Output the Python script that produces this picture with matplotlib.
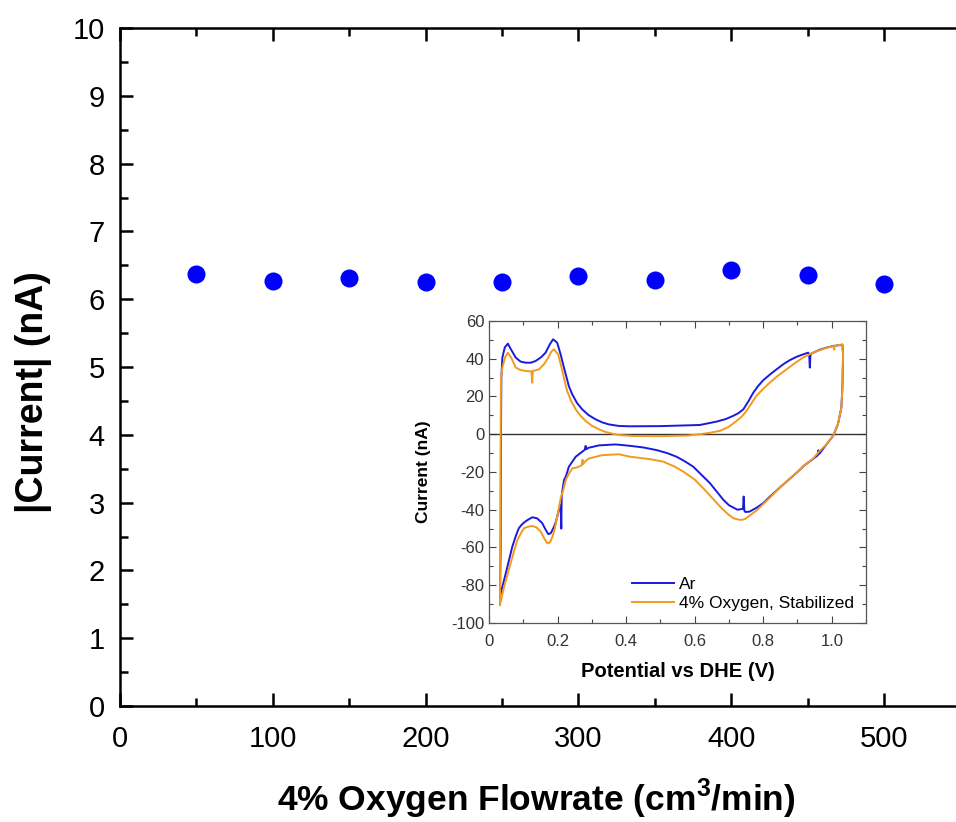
import matplotlib
matplotlib.use("Agg")
import matplotlib.pyplot as plt
from matplotlib.ticker import MultipleLocator

plt.rcParams['font.family'] = ['Liberation Sans', 'DejaVu Sans']
plt.rcParams['axes.unicode_minus'] = False

# Main data
flowrate = [50, 100, 150, 200, 250, 300, 350, 400, 450, 500]
current_abs = [6.37, 6.27, 6.31, 6.25, 6.25, 6.34, 6.28, 6.43, 6.36, 6.22]

# Inset CV: Ar (blue) -- potential (V)
ar_v = [0.032, 0.034, 0.035, 0.036, 0.039, 0.046, 0.055, 0.064, 0.078, 0.092, 0.107, 0.122,
        0.136, 0.152, 0.165, 0.177, 0.187, 0.199, 0.209, 0.217, 0.224, 0.233, 0.243, 0.257,
        0.272, 0.290, 0.311, 0.330, 0.350, 0.379, 0.410, 0.500, 0.600, 0.615, 0.664, 0.690,
        0.712, 0.728, 0.742, 0.757, 0.771, 0.785, 0.800, 0.820, 0.839, 0.858, 0.877, 0.897,
        0.916, 0.931, 0.934, 0.936, 0.938, 0.946, 0.965, 0.985, 1.005, 1.028, 1.031, 1.033,
        1.031, 1.028, 1.018, 1.004, 0.985, 0.963, 0.961, 0.959, 0.946, 0.920, 0.900, 0.875,
        0.850, 0.820, 0.800, 0.780, 0.760, 0.748, 0.745, 0.743, 0.741, 0.725, 0.700, 0.684,
        0.665, 0.645, 0.620, 0.596, 0.570, 0.547, 0.520, 0.489, 0.450, 0.410, 0.369, 0.321,
        0.290, 0.284, 0.282, 0.279, 0.265, 0.253, 0.243, 0.233, 0.225, 0.219, 0.214, 0.212,
        0.211, 0.209, 0.204, 0.195, 0.189, 0.180, 0.173, 0.165, 0.155, 0.140, 0.126, 0.112,
        0.102, 0.095, 0.087, 0.078, 0.068, 0.058, 0.049, 0.041, 0.034, 0.032]
# Ar current (nA)
ar_i = [-86.0, -60.0, 0.0, 30.0, 40.6, 46.0, 48.0, 45.0, 40.6, 38.5, 37.9, 37.9,
        38.8, 40.8, 43.2, 47.5, 50.3, 48.5, 42.3, 36.5, 31.7, 25.5, 21.1, 16.5,
        13.2, 10.2, 7.9, 6.3, 5.2, 4.4, 4.2, 4.3, 4.8, 4.9, 6.7, 8.0,
        9.7, 11.2, 13.2, 17.5, 22.0, 25.5, 28.6, 31.7, 34.4, 37.0, 39.2, 41.0,
        42.3, 43.2, 42.5, 35.3, 42.5, 43.2, 44.8, 45.9, 46.8, 47.3, 47.5, 42.3,
        24.7, 14.1, 5.3, -0.9, -5.3, -10.5, -8.5, -11.2, -13.0, -16.5, -20.0, -24.0,
        -28.0, -33.0, -36.5, -39.0, -41.0, -41.2, -40.5, -33.0, -39.5, -40.0, -37.6, -34.8,
        -30.5, -26.0, -21.5, -17.2, -14.2, -11.9, -10.0, -8.4, -7.0, -6.1, -5.4, -5.9,
        -7.2, -8.0, -6.2, -8.3, -10.2, -11.9, -14.5, -17.2, -22.0, -24.2, -30.0, -33.1,
        -50.0, -37.5, -40.1, -46.5, -49.3, -52.5, -52.9, -50.5, -47.0, -44.5, -44.0, -45.5,
        -46.8, -48.0, -49.8, -54.0, -59.6, -67.0, -73.7, -79.5, -84.3, -86.0]

# Inset CV: 4% Oxygen, Stabilized (orange) -- potential (V)
ox_v = [0.032, 0.033, 0.034, 0.035, 0.039, 0.047, 0.055, 0.065, 0.078, 0.092, 0.107, 0.124,
        0.126, 0.128, 0.146, 0.160, 0.170, 0.182, 0.189, 0.202, 0.214, 0.221, 0.228, 0.240,
        0.253, 0.267, 0.282, 0.300, 0.321, 0.340, 0.360, 0.379, 0.420, 0.500, 0.580, 0.615,
        0.645, 0.674, 0.700, 0.722, 0.737, 0.751, 0.765, 0.780, 0.800, 0.819, 0.843, 0.868,
        0.892, 0.916, 0.940, 0.964, 0.985, 1.005, 1.007, 1.009, 1.020, 1.031, 1.033, 1.031,
        1.028, 1.018, 1.004, 0.985, 0.964, 0.946, 0.920, 0.900, 0.875, 0.850, 0.820, 0.800,
        0.780, 0.761, 0.748, 0.737, 0.725, 0.713, 0.695, 0.674, 0.650, 0.625, 0.600, 0.567,
        0.540, 0.508, 0.470, 0.411, 0.379, 0.330, 0.291, 0.280, 0.275, 0.273, 0.270, 0.258,
        0.243, 0.233, 0.224, 0.216, 0.209, 0.204, 0.199, 0.192, 0.185, 0.178, 0.170, 0.162,
        0.151, 0.138, 0.126, 0.114, 0.102, 0.093, 0.083, 0.073, 0.063, 0.053, 0.044, 0.037,
        0.032]
# Oxygen current (nA)
ox_i = [-90.5, -60.0, 0.0, 30.0, 35.3, 40.8, 43.2, 40.5, 35.3, 34.0, 33.5, 33.3,
        27.3, 33.5, 34.4, 37.0, 39.7, 43.8, 45.0, 42.3, 33.5, 28.0, 22.9, 17.5,
        13.2, 9.8, 7.0, 4.5, 2.6, 1.2, 0.3, -0.4, -0.9, -1.0, -0.7, 0.0,
        0.8, 1.8, 4.0, 7.0, 9.3, 12.3, 16.2, 20.3, 24.0, 27.3, 31.0, 34.4,
        37.6, 40.6, 42.8, 44.5, 45.8, 46.7, 44.8, 46.8, 47.2, 47.6, 42.3, 24.7,
        14.1, 5.3, -0.9, -5.3, -9.0, -12.8, -16.5, -20.0, -24.0, -28.0, -33.5, -37.0,
        -40.5, -43.0, -44.8, -45.4, -45.1, -44.5, -42.0, -38.3, -33.5, -28.6, -24.0, -19.8,
        -17.0, -14.5, -13.2, -11.9, -10.6, -11.1, -12.9, -14.5, -15.8, -13.5, -16.5, -17.5,
        -18.1, -21.0, -24.2, -30.0, -33.9, -39.0, -43.7, -50.0, -54.3, -57.3, -57.8, -55.5,
        -51.6, -49.3, -48.6, -49.0, -49.8, -52.5, -56.0, -62.0, -68.4, -75.0, -80.8, -86.5,
        -90.5]

fig = plt.figure(figsize=(9.56, 8.22), dpi=100)
ax = fig.add_axes([0.1255, 0.1411, 0.879, 0.8248])
ax.plot(flowrate, current_abs, 'o', color='#0000ff', markersize=13, markeredgewidth=0)
ax.set_xlim(0, 550)
ax.set_ylim(0, 10)
ax.xaxis.set_major_locator(MultipleLocator(100))
ax.xaxis.set_minor_locator(MultipleLocator(50))
ax.yaxis.set_major_locator(MultipleLocator(1))
ax.yaxis.set_minor_locator(MultipleLocator(0.5))
for s in ['left', 'bottom', 'top']:
    ax.spines[s].set_linewidth(1.8)
ax.spines['right'].set_visible(False)
ax.tick_params(which='both', direction='in', top=True, right=False, width=1.8, labelsize=21)
ax.tick_params(axis='x', which='both', pad=14)
ax.tick_params(axis='y', which='both', pad=11)
ax.tick_params(which='major', length=9.5)
ax.tick_params(which='minor', length=6)
ax.set_xlabel('4% Oxygen Flowrate (cm$^\\mathregular{3}$/min)', fontsize=25.5, fontweight='bold')
ax.xaxis.set_label_coords(0.495, -0.104)
ax.set_ylabel('|Current| (nA)', fontsize=27, fontweight='bold')
ax.yaxis.set_label_coords(-0.081, 0.463)

# Inset
axi = fig.add_axes([0.5115, 0.2421, 0.3944, 0.3674])
axi.axhline(0, color='#333333', linewidth=1.0)
axi.plot(ar_v, ar_i, color='#1a1adc', linewidth=1.4, label='Ar')
axi.plot(ox_v, ox_i, color='#f39a1e', linewidth=1.4, label='4% Oxygen, Stabilized')
axi.set_xlim(0, 1.1)
axi.set_ylim(-100, 60)
axi.xaxis.set_major_locator(MultipleLocator(0.2))
axi.xaxis.set_minor_locator(MultipleLocator(0.1))
axi.yaxis.set_major_locator(MultipleLocator(20))
axi.yaxis.set_minor_locator(MultipleLocator(10))
axi.set_xticks([0, 0.2, 0.4, 0.6, 0.8, 1.0])
axi.set_xticklabels(['0', '0.2', '0.4', '0.6', '0.8', '1.0'])
for s in axi.spines.values():
    s.set_linewidth(0.9)
    s.set_color('#555555')
axi.tick_params(which='both', direction='in', top=True, right=True, width=0.8, labelsize=12,
                colors='#444444', labelcolor='#333333')
axi.tick_params(axis='x', which='both', pad=8)
axi.tick_params(which='major', length=5)
axi.tick_params(which='minor', length=3)
axi.set_xlabel('Potential vs DHE (V)', fontsize=14.5, fontweight='bold', labelpad=9)
axi.set_ylabel('Current (nA)', fontsize=12.5, fontweight='bold', labelpad=14)
leg = axi.legend(loc='lower right', frameon=False, fontsize=12.5, handlelength=2.4,
                 handletextpad=0.3, labelspacing=0.2, borderaxespad=0.3)

fig.savefig('out.png', dpi=100)
